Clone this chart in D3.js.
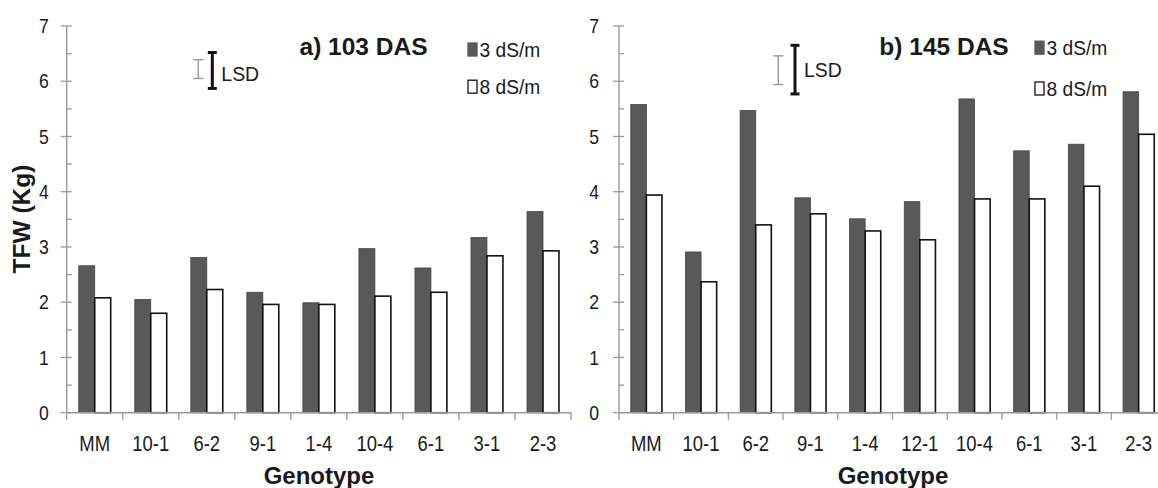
<!DOCTYPE html>
<html><head><meta charset="utf-8">
<script src="https://d3js.org/d3.v7.min.js"></script>
<style>
body{margin:0;background:#fff;}
svg text{font-family:"Liberation Sans",Arial,sans-serif;fill:#1a1a1a;}
</style></head>
<body><svg id="c" width="1158" height="488"></svg>
<script>
const genotypesA = ["MM","10-1","6-2","9-1","1-4","10-4","6-1","3-1","2-3"];
const lowSaltA  = [2.66,2.05,2.81,2.18,1.99,2.97,2.62,3.17,3.64];
const highSaltA = [2.08,1.80,2.23,1.96,1.96,2.11,2.18,2.84,2.93];
const genotypesB = ["MM","10-1","6-2","9-1","1-4","12-1","10-4","6-1","3-1","2-3"];
const lowSaltB  = [5.58,2.91,5.47,3.89,3.51,3.82,5.68,4.74,4.86,5.81];
const highSaltB = [3.94,2.37,3.40,3.60,3.29,3.13,3.87,3.87,4.10,5.04];
const yTicks = [0,1,2,3,4,5,6,7];
const seriesNames = ["3 dS/m","8 dS/m"];
const titles = ["a) 103 DAS","b) 145 DAS"];
const lsdA = [[6.05,6.39],[5.87,6.52]];
const lsdB = [[5.94,6.46],[5.77,6.65]];

const svg = d3.select("#c");
const AX = "#999999";

function txt(g,x,y,s,o){
  o=o||{};
  const t=g.append("text").attr("transform",`translate(${x},${y}) scale(${o.sx||1},1)`)
    .attr("text-anchor",o.anchor||"start").attr("font-size",o.size||20).text(s);
  if(o.bold) t.attr("font-weight","bold");
  return t;
}

function panel(cfg){
  const g = svg.append("g");
  const y = d3.scaleLinear().domain([0,7]).range([412.7,26]);
  const x = d3.scaleBand().domain(cfg.cats).range([cfg.x0,cfg.x1]).paddingInner(0).paddingOuter(0);
  const pad = 0.215;
  const bw = x.bandwidth()*(1-2*pad)/2;
  cfg.cats.forEach((c,i)=>{
    const bx = x(c)+x.bandwidth()*pad;
    g.append("rect").attr("x",bx).attr("y",y(cfg.s1[i])).attr("width",bw).attr("height",y(0)-y(cfg.s1[i]))
      .attr("fill","#595959").attr("stroke","#444").attr("stroke-width",0.8);
    g.append("rect").attr("x",bx+bw).attr("y",y(cfg.s2[i])).attr("width",bw).attr("height",y(0)-y(cfg.s2[i]))
      .attr("fill","#fff").attr("stroke","#111").attr("stroke-width",1.6);
  });
  // y axis
  g.append("line").attr("x1",cfg.x0).attr("x2",cfg.x0).attr("y1",y(7)).attr("y2",y(0)).attr("stroke",AX).attr("stroke-width",1.4);
  d3.range(0,7.01,0.5).forEach(v=>{
    const major = Number.isInteger(v);
    g.append("line").attr("x1",cfg.x0-(major?6:0)).attr("x2",cfg.x0+5).attr("y1",y(v)).attr("y2",y(v)).attr("stroke",AX).attr("stroke-width",1.3);
  });
  yTicks.forEach(v=>{
    txt(g,cfg.x0-cfg.labGap,y(v)+7.2,v,{anchor:"end",size:20,sx:0.88});
  });
  // x axis
  g.append("line").attr("x1",cfg.x0).attr("x2",cfg.x1).attr("y1",y(0)).attr("y2",y(0)).attr("stroke",AX).attr("stroke-width",1.4);
  cfg.cats.forEach((c,i)=>{
    g.append("line").attr("x1",x(c)).attr("x2",x(c)).attr("y1",y(0)).attr("y2",y(0)+7).attr("stroke",AX).attr("stroke-width",1.3);
    txt(g,x(c)+x.bandwidth()/2,450.7,c,{anchor:"middle",size:22,sx:0.84});
  });
  g.append("line").attr("x1",cfg.x1).attr("x2",cfg.x1).attr("y1",y(0)).attr("y2",y(0)+7).attr("stroke",AX).attr("stroke-width",1.3);
  txt(g,cfg.genX,484,"Genotype",{anchor:"middle",size:24,bold:true});
  // title
  txt(g,cfg.titleX,54.5,cfg.title,{anchor:"middle",size:24.5,bold:true});
  // legend
  const items=[{f:"#595959",s:"#595959"},{f:"#fff",s:"#111"}];
  items.forEach((it,k)=>{
    const cy=cfg.legY[k];
    g.append("rect").attr("x",cfg.legX).attr("y",cy-6.5).attr("width",9).attr("height",13).attr("fill",it.f).attr("stroke",it.s).attr("stroke-width",1.3);
    txt(g,cfg.legX+11.5,cy+7.5,seriesNames[k],{size:20,sx:0.96});
  });
  // LSD
  const bars=[{x:cfg.lsdX[0],r:cfg.lsd[0],c:"#9a9a9a",w:1.4,cap:5},{x:cfg.lsdX[1],r:cfg.lsd[1],c:"#111",w:3,cap:4.5}];
  bars.forEach(b=>{
    g.append("line").attr("x1",b.x).attr("x2",b.x).attr("y1",y(b.r[0])).attr("y2",y(b.r[1])).attr("stroke",b.c).attr("stroke-width",b.w);
    [b.r[0],b.r[1]].forEach(v=>g.append("line").attr("x1",b.x-b.cap).attr("x2",b.x+b.cap).attr("y1",y(v)).attr("y2",y(v)).attr("stroke",b.c).attr("stroke-width",b.w));
  });
  txt(g,cfg.lsdX[1]+9,cfg.lsdTextY,"LSD",{size:20.5,sx:0.95});
}

panel({cats:genotypesA,s1:lowSaltA,s2:highSaltA,x0:66.7,x1:571,labGap:18,title:titles[0],titleX:363.5,genX:319,
  legX:468,legY:[49.5,86.7],lsdX:[198.3,212.3],lsd:lsdA,lsdTextY:80.7});
panel({cats:genotypesB,s1:lowSaltB,s2:highSaltB,x0:619,x1:1166,labGap:20,title:titles[1],titleX:944,genX:893,
  legX:1035,legY:[47.7,88.5],lsdX:[778.3,795],lsd:lsdB,lsdTextY:76.7});

const yt = svg.append("g");
txt(yt,0,0,"TFW (Kg)",{anchor:"middle",size:24.5,bold:true}).attr("transform","translate(30,219) rotate(-90)");
</script></body></html>
